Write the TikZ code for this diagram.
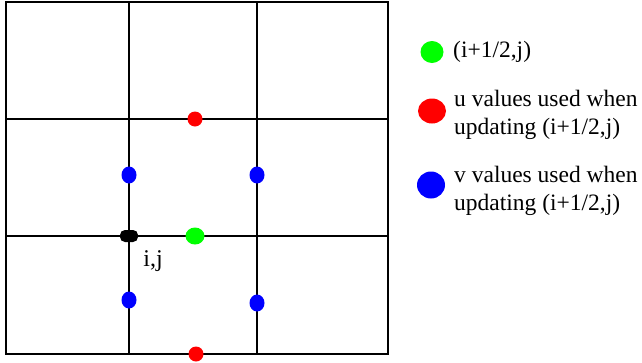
\documentclass[tikz,border=0pt]{standalone}
\usepackage{fontspec}
\setmainfont{Liberation Serif}
\usetikzlibrary{shapes.geometric}
\begin{document}
\begin{tikzpicture}[x=1pt,y=-1pt,
  gridline/.style={draw=black, line width=1.4pt},
  dotnode/.style={ellipse, inner sep=0pt, draw=none},
  legtext/.style={anchor=west, inner sep=0pt, align=left, font=\fontsize{23.5}{28}\selectfont}]
\useasboundingbox (0,0) rectangle (642,362);
% grid
\draw[gridline] (6,2) rectangle (388,354);
\draw[gridline] (129,2) -- (129,354);
\draw[gridline] (257,2) -- (257,354);
\draw[gridline] (6,119) -- (388,119);
\draw[gridline] (6,236) -- (388,236);
% dots on grid
\node[dotnode, fill=red, minimum width=15pt, minimum height=15pt] (ut) at (195,119) {};
\node[dotnode, fill=red, minimum width=15pt, minimum height=15pt] (ub) at (196,354) {};
\node[dotnode, fill=blue, minimum width=15pt, minimum height=17pt] (v1) at (129,175) {};
\node[dotnode, fill=blue, minimum width=15pt, minimum height=17pt] (v2) at (257,175) {};
\node[dotnode, fill=blue, minimum width=15pt, minimum height=17pt] (v3) at (129,300) {};
\node[dotnode, fill=blue, minimum width=15pt, minimum height=17pt] (v4) at (257,303) {};
\node[dotnode, fill={rgb,255:red,0;green,255;blue,0}, minimum width=19pt, minimum height=17pt] (g) at (195,236) {};
\node[rectangle, rounded corners=5pt, inner sep=0pt, fill=black, minimum width=18pt, minimum height=12pt] (ij) at (129,236) {};
\node[inner sep=0pt, font=\fontsize{24}{28}\selectfont] (ijlab) at (153,261) {i,j};
% legend
\node[dotnode, fill={rgb,255:red,0;green,255;blue,0}, minimum width=23pt, minimum height=22pt] (lg) at (432,52) {};
\node[legtext] (lgt) at (453,52) {(i+1/2,j)};
\node[dotnode, fill=red, minimum width=28pt, minimum height=25pt] (lr) at (432,111) {};
\node[legtext] (lrt) at (454,115) {u values used when\\updating (i+1/2,j)};
\node[dotnode, fill=blue, minimum width=28pt, minimum height=27pt] (lb) at (431,185) {};
\node[legtext] (lbt) at (454,191) {v values used when\\updating (i+1/2,j)};
\end{tikzpicture}
\end{document}
